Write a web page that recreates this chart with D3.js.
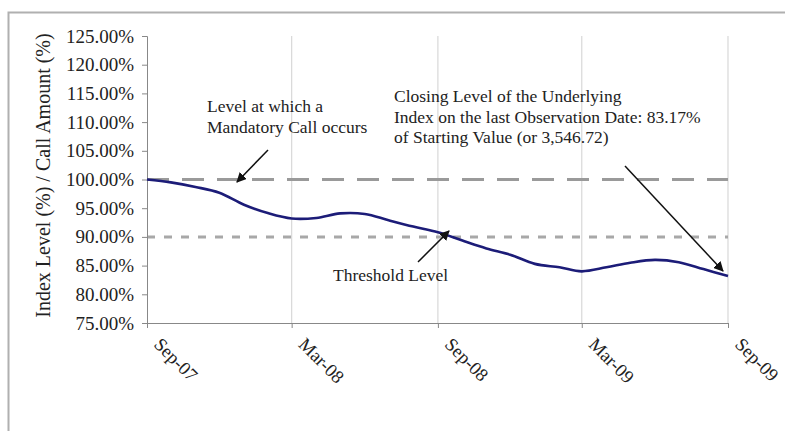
<!DOCTYPE html>
<html>
<head>
<meta charset="utf-8">
<script src="https://cdn.jsdelivr.net/npm/d3@7"></script>
<style>
  body { margin: 0; background: #fff; }
  svg { display: block; font-family: "Liberation Serif", "Times New Roman", serif; }
  .axis path, .axis line { stroke: #888; }
  .axis text { font-family: "Liberation Serif", serif; fill: #222; }
</style>
</head>
<body>
<svg width="785" height="431"></svg>
<script>
// monthly closing level of the index, % of starting value
var months = ["2007-09","2007-10","2007-11","2007-12","2008-01","2008-02","2008-03","2008-04",
    "2008-05","2008-06","2008-07","2008-08","2008-09","2008-10","2008-11","2008-12",
    "2009-01","2009-02","2009-03","2009-04","2009-05","2009-06","2009-07","2009-08","2009-09"];
var levels = [100.0, 99.5, 98.7, 97.7, 95.6, 94.1, 93.2, 93.3, 94.1, 94.0, 92.9, 91.8,
    90.8, 89.4, 88.0, 86.9, 85.3, 84.7, 84.0, 84.7, 85.5, 86.0, 85.6, 84.4, 83.17];
var callLevel = 100, thresholdLevel = 90;
var yTicks = [75, 80, 85, 90, 95, 100, 105, 110, 115, 120, 125];
var xTickMonths = ["2007-09", "2008-03", "2008-09", "2009-03", "2009-09"];

var parse = d3.timeParse("%Y-%m");
var data = months.map(function(m, i) { return { date: parse(m), value: levels[i] }; });

var margin = { top: 36, left: 147 },
    width = 581,
    height = 287;

var svg = d3.select("svg");

// outer frame
svg.append("rect")
    .attr("x", 8.5).attr("y", 12.5)
    .attr("width", 800).attr("height", 500)
    .attr("fill", "none").attr("stroke", "#b0b0b0").attr("stroke-width", 2);

var g = svg.append("g")
    .attr("transform", "translate(" + margin.left + "," + margin.top + ")");

var x = d3.scaleTime()
    .domain(d3.extent(data, function(d) { return d.date; }))
    .range([0, width]);
var y = d3.scaleLinear().domain([75, 125]).range([height, 0]);

var xTicks = xTickMonths.map(parse);

// vertical grid lines
g.selectAll(".grid")
    .data(xTicks.slice(1))
    .enter().append("line")
    .attr("x1", function(d) { return x(d); })
    .attr("x2", function(d) { return x(d); })
    .attr("y1", 0).attr("y2", height)
    .attr("stroke", "#d8d8d8").attr("stroke-width", 1.2);

// reference levels
g.append("line")
    .attr("x1", 0).attr("x2", width)
    .attr("y1", y(callLevel)).attr("y2", y(callLevel))
    .attr("stroke", "#9a9a9a").attr("stroke-width", 3)
    .attr("stroke-dasharray", "22,13");
g.append("line")
    .attr("x1", 0).attr("x2", width)
    .attr("y1", y(thresholdLevel)).attr("y2", y(thresholdLevel))
    .attr("stroke", "#a8a8a8").attr("stroke-width", 3)
    .attr("stroke-dasharray", "8,9");

// axes
g.append("g")
    .attr("class", "axis")
    .call(d3.axisLeft(y).tickValues(yTicks).tickSize(5).tickPadding(8)
        .tickFormat(function(d) { return d.toFixed(2) + "%"; }))
    .call(function(a) { a.selectAll("text").style("font-size", "19px"); });

var xAxis = g.append("g")
    .attr("class", "axis")
    .attr("transform", "translate(0," + height + ")")
    .call(d3.axisBottom(x).tickValues(xTicks).tickSize(5).tickSizeOuter(0)
        .tickFormat(d3.timeFormat("%b-%y")));
xAxis.selectAll("text")
    .style("font-size", "18.5px")
    .attr("text-anchor", "start")
    .attr("transform", "translate(10,18) rotate(45)")
    .attr("dy", "0.35em")
    .attr("y", 0);

// index line
g.append("path")
    .datum(data)
    .attr("fill", "none")
    .attr("stroke", "#1c1c78")
    .attr("stroke-width", 2.6)
    .attr("d", d3.line()
        .x(function(d) { return x(d.date); })
        .y(function(d) { return y(d.value); })
        .curve(d3.curveCatmullRom));

// y axis title
svg.append("text")
    .attr("transform", "translate(50," + (margin.top + height / 2 - 4) + ") rotate(-90)")
    .attr("text-anchor", "middle")
    .style("font-size", "20px")
    .attr("fill", "#222")
    .text("Index Level (%) / Call Amount (%)");

// annotations
svg.append("defs").append("marker")
    .attr("id", "arrow")
    .attr("viewBox", "0 0 10 10")
    .attr("refX", 9).attr("refY", 5)
    .attr("markerWidth", 10).attr("markerHeight", 10)
    .attr("markerUnits", "userSpaceOnUse")
    .attr("orient", "auto")
    .append("path")
    .attr("d", "M0,0 L10,5 L0,10 Z")
    .attr("fill", "#111");

function note(lines, tx, ty) {
    var t = svg.append("text")
        .attr("x", tx).attr("y", ty)
        .style("font-size", "17.5px")
        .attr("fill", "#222");
    lines.forEach(function(l, i) {
        t.append("tspan").attr("x", tx).attr("dy", i ? 20.5 : 0).text(l);
    });
}
function arrow(x1, y1, x2, y2) {
    svg.append("line")
        .attr("x1", x1).attr("y1", y1).attr("x2", x2).attr("y2", y2)
        .attr("stroke", "#111").attr("stroke-width", 1.5)
        .attr("marker-end", "url(#arrow)");
}

note(["Level at which a", "Mandatory Call occurs"], 207, 112);
arrow(268, 150, 237, 182);

note(["Closing Level of the Underlying", "Index on the last Observation Date: 83.17%",
    "of Starting Value (or 3,546.72)"], 394, 102);
arrow(625, 166, 723, 271);

note(["Threshold Level"], 333, 281);
arrow(418, 262, 449, 231);
</script>
</body>
</html>
